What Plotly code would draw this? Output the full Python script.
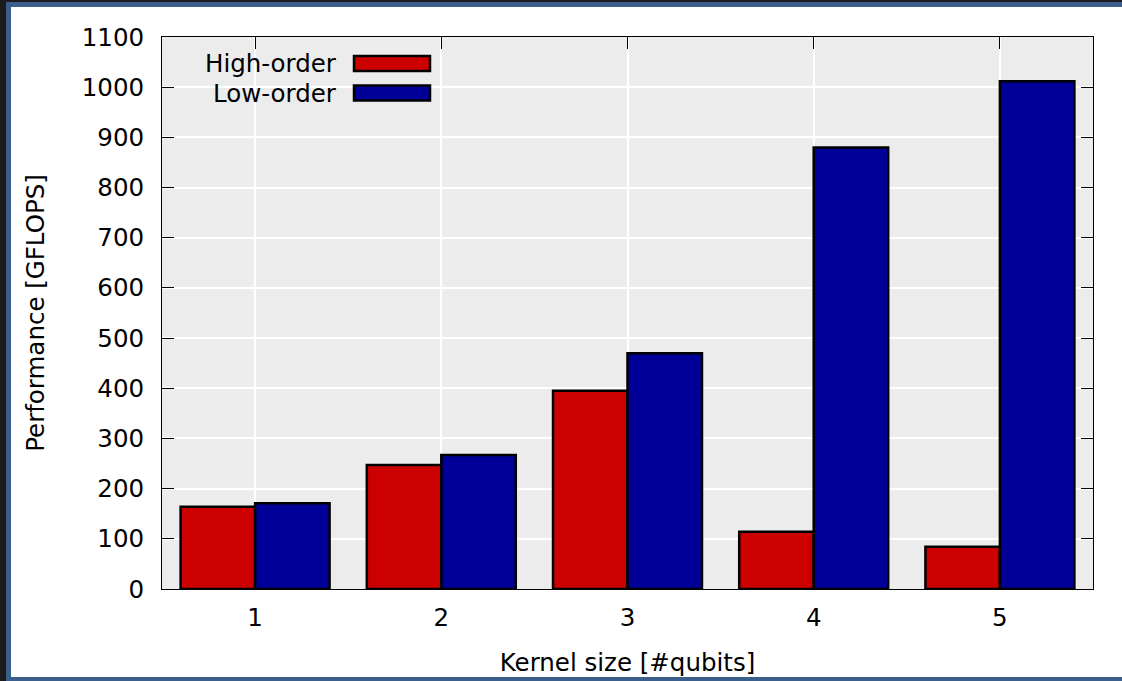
import plotly.graph_objects as go

# Kernel sizes (number of qubits) and measured throughput in GFLOPS
kernel_sizes = [1, 2, 3, 4, 5]
series_names = ["High-order", "Low-order"]
high_order = [164, 247, 395, 114, 84]
low_order = [171, 267, 470, 880, 1012]
y_ticks = list(range(0, 1101, 100))

RED = "#cc0000"
BLUE = "#000099"
PLOT_BG = "#ececec"
FONT = "DejaVu Sans"
FS = 24.5

W, H = 1122, 681
M_L, M_R, M_T, M_B = 162, 29, 37, 92
PW, PH = W - M_L - M_R, H - M_T - M_B


def px_x(px):
    return (px - M_L) / PW


def px_y(py):
    return (H - M_B - py) / PH


fig = go.Figure()
for name, vals, col in [(series_names[0], high_order, RED), (series_names[1], low_order, BLUE)]:
    fig.add_trace(go.Bar(
        x=kernel_sizes, y=vals, name=name, showlegend=False,
        marker=dict(color=col, line=dict(color="black", width=2.5)),
    ))

axis_common = dict(
    showline=True, linecolor="black", linewidth=1, mirror="ticks",
    ticks="inside", ticklen=12, tickcolor="black", tickwidth=1,
    showgrid=True, gridcolor="white", gridwidth=2, zeroline=False,
    automargin=False,
    tickfont=dict(family=FONT, size=FS, color="black"),
)

fig.update_layout(
    width=W, height=H,
    margin=dict(l=M_L, r=M_R, t=M_T, b=M_B, pad=0, autoexpand=False),
    paper_bgcolor="white", plot_bgcolor=PLOT_BG,
    barmode="group", bargap=0.2, bargroupgap=0,
    font=dict(family=FONT, size=FS, color="black"),
    xaxis=dict(axis_common, range=[0.5, 5.5], tickvals=kernel_sizes,
               ticklabelstandoff=7,
               title=dict(text="Kernel size [#qubits]", standoff=22,
                          font=dict(family=FONT, size=FS))),
    yaxis=dict(axis_common, range=[0, 1100], tickvals=y_ticks,
               ticklabelstandoff=12,
               title=dict(text="Performance [GFLOPS]", standoff=30,
                          font=dict(family=FONT, size=FS))),
)

shapes = []
# key box background hides the grid behind the key
shapes.append(dict(type="rect", xref="paper", yref="paper", layer="between",
                   x0=px_x(180), x1=px_x(442), y0=px_y(106), y1=px_y(44),
                   fillcolor=PLOT_BG, line=dict(width=0)))
annotations = []
for i, (name, col) in enumerate([(series_names[0], RED), (series_names[1], BLUE)]):
    cy = 63.5 + i * 29.5
    shapes.append(dict(type="rect", xref="paper", yref="paper", layer="above",
                       x0=px_x(354), x1=px_x(430), y0=px_y(cy + 7.5), y1=px_y(cy - 7.5),
                       fillcolor=col, line=dict(color="black", width=2.5)))
    annotations.append(dict(xref="paper", yref="paper", x=px_x(339), y=px_y(cy),
                            xanchor="right", yanchor="middle", showarrow=False,
                            text=name, font=dict(family=FONT, size=FS, color="black")))

# window frame around the figure
frame = [
    (0, 6, 0, H, "#1c1c1c"),
    (6, 11, 2, H, "#3b5f8d"),
    (0, W, 0, 2, "#1c1c1c"),
    (6, W, 2, 7, "#3b5f8d"),
    (6, W, 677, H, "#3b5f8d"),
]
for x0, x1, y0, y1, col in frame:
    shapes.append(dict(type="rect", xref="paper", yref="paper", layer="above",
                       x0=px_x(x0), x1=px_x(x1), y0=px_y(y1), y1=px_y(y0),
                       fillcolor=col, line=dict(width=0)))

fig.update_layout(shapes=shapes, annotations=annotations)
fig.write_html("out.html")
